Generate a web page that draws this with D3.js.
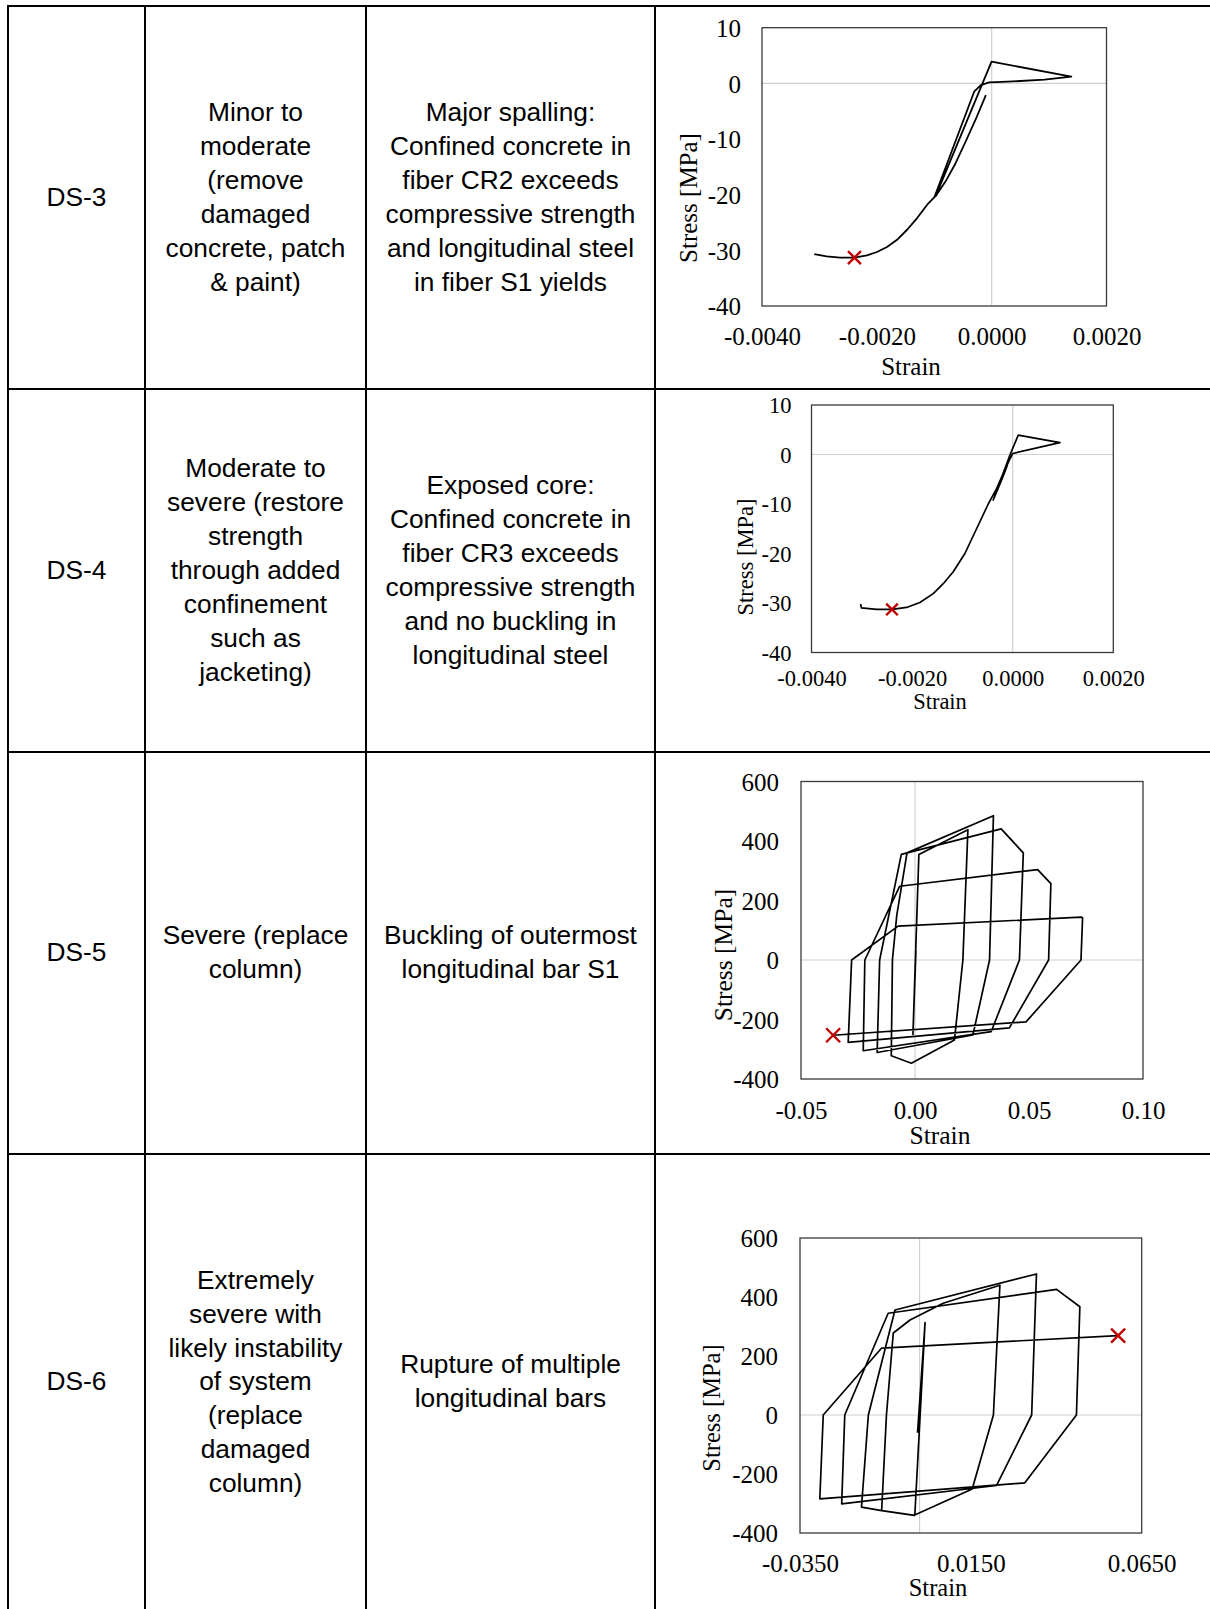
<!DOCTYPE html>
<html>
<head>
<meta charset="utf-8">
<script src="https://cdn.jsdelivr.net/npm/d3@7"></script>
<style>
body { margin: 0; background: #fff; }
svg { display: block; }
.cell { font-family: "Liberation Sans", Arial, sans-serif; font-size: 26.3px; fill: #000; }
.chart text { font-family: "Liberation Serif", "Times New Roman", serif; fill: #000; }
</style>
</head>
<body>
<div id="page"></div>
<script>
(function(){

//table text
var dsLabels = ["DS-3", "DS-4", "DS-5", "DS-6"];
var repairText = [
    ["Minor to", "moderate", "(remove", "damaged", "concrete, patch", "& paint)"],
    ["Moderate to", "severe (restore", "strength", "through added", "confinement", "such as", "jacketing)"],
    ["Severe (replace", "column)"],
    ["Extremely", "severe with", "likely instability", "of system", "(replace", "damaged", "column)"]
];
var damageText = [
    ["Major spalling:", "Confined concrete in", "fiber CR2 exceeds", "compressive strength", "and longitudinal steel", "in fiber S1 yields"],
    ["Exposed core:", "Confined concrete in", "fiber CR3 exceeds", "compressive strength", "and no buckling in", "longitudinal steel"],
    ["Buckling of outermost", "longitudinal bar S1"],
    ["Rupture of multiple", "longitudinal bars"]
];

//stress-strain histories, [strain, stress MPa]
var ds3Curve = [
    [-0.000101, -2.1], [-0.000259, -6.0], [-0.000451, -10.4], [-0.000626, -14.3], [-0.000802, -17.6], [-0.000977, -20.3],
    [-0.000002, 3.9], [0.001387, 1.2], [0.00092, 0.66], [0.000278, 0.3], [-0.000043, 0.18], [-0.000189, -0.3],
    [-0.000305, -1.5], [-0.00100, -20.5], [-0.001123, -21.8], [-0.001298, -24.2], [-0.001473, -26.3], [-0.001648, -28.1],
    [-0.001823, -29.4], [-0.001998, -30.3], [-0.002173, -30.9], [-0.002389, -31.3], [-0.00264, -31.3], [-0.002874, -31.1],
    [-0.00309, -30.7]
];
var ds3Fail = [-0.00239, -31.3];

var ds4Curve = [
    [-0.000108, -2.2], [-0.000221, -5.2], [-0.000387, -9.2], [-0.000055, -0.1], [0.00011, 3.9], [0.000939, 2.4],
    [-0.000002, 0.2], [-0.000069, -1.2], [-0.000188, -3.8], [-0.00032, -6.9], [-0.000486, -10.0], [-0.000718, -15.0],
    [-0.00095, -20.0], [-0.001182, -23.7], [-0.001381, -26.1], [-0.00158, -28.1], [-0.001845, -29.9], [-0.002111, -30.9],
    [-0.002396, -31.3], [-0.002707, -31.3], [-0.003006, -31.0], [-0.003025, -30.2]
];
var ds4Fail = [-0.0024, -31.3];

var ds5Curve = [
    [0.0004, 30], [-0.0009, -250], [0.0017, 355], [0.0232, 438],
    [0.0210, 0], [0.0173, -269], [-0.0016, -347], [-0.0104, -322],
    [-0.0099, 0], [-0.0080, 150], [-0.0035, 360], [0.0344, 485],
    [0.0327, 0], [0.0254, -252], [-0.0166, -311],
    [-0.0155, 0], [-0.0060, 355], [0.0378, 441], [0.0475, 360],
    [0.0458, 0], [0.0334, -241], [-0.0227, -305],
    [-0.0220, 0], [-0.0067, 248], [0.0538, 304], [0.0596, 257],
    [0.0586, 0], [0.0414, -228], [-0.0293, -277],
    [-0.0278, 0], [-0.0074, 114], [0.0728, 144], [0.0735, 142],
    [0.0728, 0], [0.0487, -208], [-0.0359, -253]
];
var ds5Fail = [-0.0359, -253];

var ds6Curve = [
    [-0.0006, -60], [0.0016, 313], [-0.0014, -340], [-0.0111, -324],
    [-0.0097, 0], [-0.0077, 278], [-0.0028, 322], [0.0069, 379], [0.0235, 440],
    [0.0216, 0], [0.0154, -251], [-0.0016, -340], [-0.0111, -324], [-0.0170, -312],
    [-0.0150, 0], [-0.0072, 356], [0.0342, 478],
    [0.0328, 0], [0.0225, -239], [-0.0228, -301],
    [-0.0219, 0], [-0.0092, 345], [0.0401, 426], [0.0469, 367],
    [0.0459, 0], [0.0308, -230], [-0.0292, -284],
    [-0.0282, 0], [-0.0111, 227], [0.0581, 269]
];
var ds6Fail = [0.0581, 269];

//tick values
var concreteXTicks = [-0.004, -0.002, 0, 0.002];
var concreteYTicks = [10, 0, -10, -20, -30, -40];
var ds5XTicks = [-0.05, 0, 0.05, 0.10];
var ds6XTicks = [-0.035, 0.015, 0.065];
var steelYTicks = [600, 400, 200, 0, -200, -400];

//layout
var width = 1210, height = 1609;
var colX = [8, 145, 366, 655];
var rowY = [6, 389, 752, 1154, 1610];
var lineH = 33.9;

var charts = [
    {data: ds3Curve, fail: ds3Fail, xDom: [-0.004, 0.002], yDom: [-40, 10], xTicks: concreteXTicks, yTicks: concreteYTicks, xFmt: ".4f",
     frame: [762, 27.7, 1106.5, 306], font: 25, titleFont: 25, xLabY: 336, yLabX: 741, xTitle: [911, 366], yTitle: [688, 198], mark: 6.5, lw: 1.8},
    {data: ds4Curve, fail: ds4Fail, xDom: [-0.004, 0.002], yDom: [-40, 10], xTicks: concreteXTicks, yTicks: concreteYTicks, xFmt: ".4f",
     frame: [811.5, 405, 1113.3, 652.5], font: 22.5, titleFont: 22.5, xLabY: 678, yLabX: 791.5, xTitle: [940, 701], yTitle: [745, 557], mark: 5.8, lw: 1.7},
    {data: ds5Curve, fail: ds5Fail, xDom: [-0.05, 0.10], yDom: [-400, 600], xTicks: ds5XTicks, yTicks: steelYTicks, xFmt: ".2f",
     frame: [801, 781.5, 1143, 1079], font: 25, titleFont: 25.5, xLabY: 1110, yLabX: 779, xTitle: [940, 1135], yTitle: [723, 955], mark: 7, lw: 1.7},
    {data: ds6Curve, fail: ds6Fail, xDom: [-0.035, 0.065], yDom: [-400, 600], xTicks: ds6XTicks, yTicks: steelYTicks, xFmt: ".4f",
     frame: [800, 1238, 1141.7, 1533], font: 25, titleFont: 24.5, xLabY: 1563, yLabX: 778, xTitle: [938, 1587], yTitle: [711.5, 1408], mark: 7, lw: 1.7}
];

var num = d3.formatLocale({decimal: ".", thousands: ",", grouping: [3], currency: ["$", ""], minus: "-"});

var svg = d3.select("#page")
    .append("svg")
    .attr("width", width)
    .attr("height", height);

setTable(svg);
charts.forEach(function(c){ setChart(svg, c); });

//TABLE
function setTable(svg){
    var grid = svg.append("g").attr("stroke", "#000").attr("stroke-width", 2);

    rowY.slice(0, 4).forEach(function(y){
        grid.append("line").attr("x1", colX[0] - 1).attr("x2", width).attr("y1", y).attr("y2", y);
    });
    colX.forEach(function(x){
        grid.append("line").attr("x1", x).attr("x2", x).attr("y1", rowY[0]).attr("y2", height);
    });

    for (var i = 0; i < dsLabels.length; i++){
        var cy = (rowY[i] + rowY[i + 1]) / 2 - 0.8;
        cellText(svg, (colX[0] + colX[1]) / 2, cy, [dsLabels[i]]);
        cellText(svg, (colX[1] + colX[2]) / 2, cy, repairText[i]);
        cellText(svg, (colX[2] + colX[3]) / 2, cy, damageText[i]);
    }
}

function cellText(svg, cx, cy, lines){
    var top = cy - (lines.length - 1) / 2 * lineH;
    svg.append("text")
        .attr("class", "cell")
        .attr("text-anchor", "middle")
        .selectAll("tspan")
        .data(lines)
        .enter()
        .append("tspan")
        .attr("x", cx)
        .attr("y", function(d, i){ return top + i * lineH; })
        .attr("dy", "0.35em")
        .text(function(d){ return d; });
}

//CHART
function setChart(svg, c){
    var x = d3.scaleLinear().domain(c.xDom).range([c.frame[0], c.frame[2]]);
    var y = d3.scaleLinear().domain(c.yDom).range([c.frame[3], c.frame[1]]);

    var g = svg.append("g").attr("class", "chart");

    //zero lines
    g.append("line")
        .attr("x1", x(0)).attr("x2", x(0))
        .attr("y1", c.frame[1]).attr("y2", c.frame[3])
        .attr("stroke", "#d0d0d0").attr("stroke-width", 1.2);
    g.append("line")
        .attr("x1", c.frame[0]).attr("x2", c.frame[2])
        .attr("y1", y(0)).attr("y2", y(0))
        .attr("stroke", "#d0d0d0").attr("stroke-width", 1.2);

    //plot frame
    g.append("rect")
        .attr("x", c.frame[0]).attr("y", c.frame[1])
        .attr("width", c.frame[2] - c.frame[0])
        .attr("height", c.frame[3] - c.frame[1])
        .attr("fill", "none")
        .attr("stroke", "#3a3a3a")
        .attr("stroke-width", 1.3);

    //curve
    var line = d3.line()
        .x(function(d){ return x(d[0]); })
        .y(function(d){ return y(d[1]); });

    g.append("path")
        .datum(c.data)
        .attr("d", line)
        .attr("fill", "none")
        .attr("stroke", "#000")
        .attr("stroke-width", c.lw)
        .attr("stroke-linejoin", "round");

    //failure marker
    var fx = x(c.fail[0]), fy = y(c.fail[1]), r = c.mark;
    g.append("path")
        .attr("d", "M" + (fx - r) + "," + (fy - r) + "L" + (fx + r) + "," + (fy + r) +
                   "M" + (fx - r) + "," + (fy + r) + "L" + (fx + r) + "," + (fy - r))
        .attr("stroke", "#c00000")
        .attr("stroke-width", 2.4)
        .attr("fill", "none");

    //axes
    var xAxis = g.append("g")
        .attr("transform", "translate(0," + c.frame[3] + ")")
        .call(d3.axisBottom(x).tickValues(c.xTicks).tickFormat(num.format(c.xFmt)).tickSize(0));
    xAxis.select(".domain").remove();
    xAxis.selectAll("text")
        .attr("y", c.xLabY - c.frame[3])
        .attr("dy", "0.35em")
        .style("font-size", c.font + "px");

    var yAxis = g.append("g")
        .attr("transform", "translate(" + c.frame[0] + ",0)")
        .call(d3.axisLeft(y).tickValues(c.yTicks).tickFormat(num.format("d")).tickSize(0));
    yAxis.select(".domain").remove();
    yAxis.selectAll("text")
        .attr("x", c.yLabX - c.frame[0])
        .attr("dy", "0.35em")
        .style("font-size", c.font + "px");

    //titles
    g.append("text")
        .attr("x", c.xTitle[0]).attr("y", c.xTitle[1])
        .attr("dy", "0.35em")
        .attr("text-anchor", "middle")
        .style("font-size", c.titleFont + "px")
        .text("Strain");

    g.append("text")
        .attr("transform", "translate(" + c.yTitle[0] + "," + c.yTitle[1] + ") rotate(-90)")
        .attr("dy", "0.35em")
        .attr("text-anchor", "middle")
        .style("font-size", c.titleFont + "px")
        .text("Stress [MPa]");
}

})();
</script>
</body>
</html>
